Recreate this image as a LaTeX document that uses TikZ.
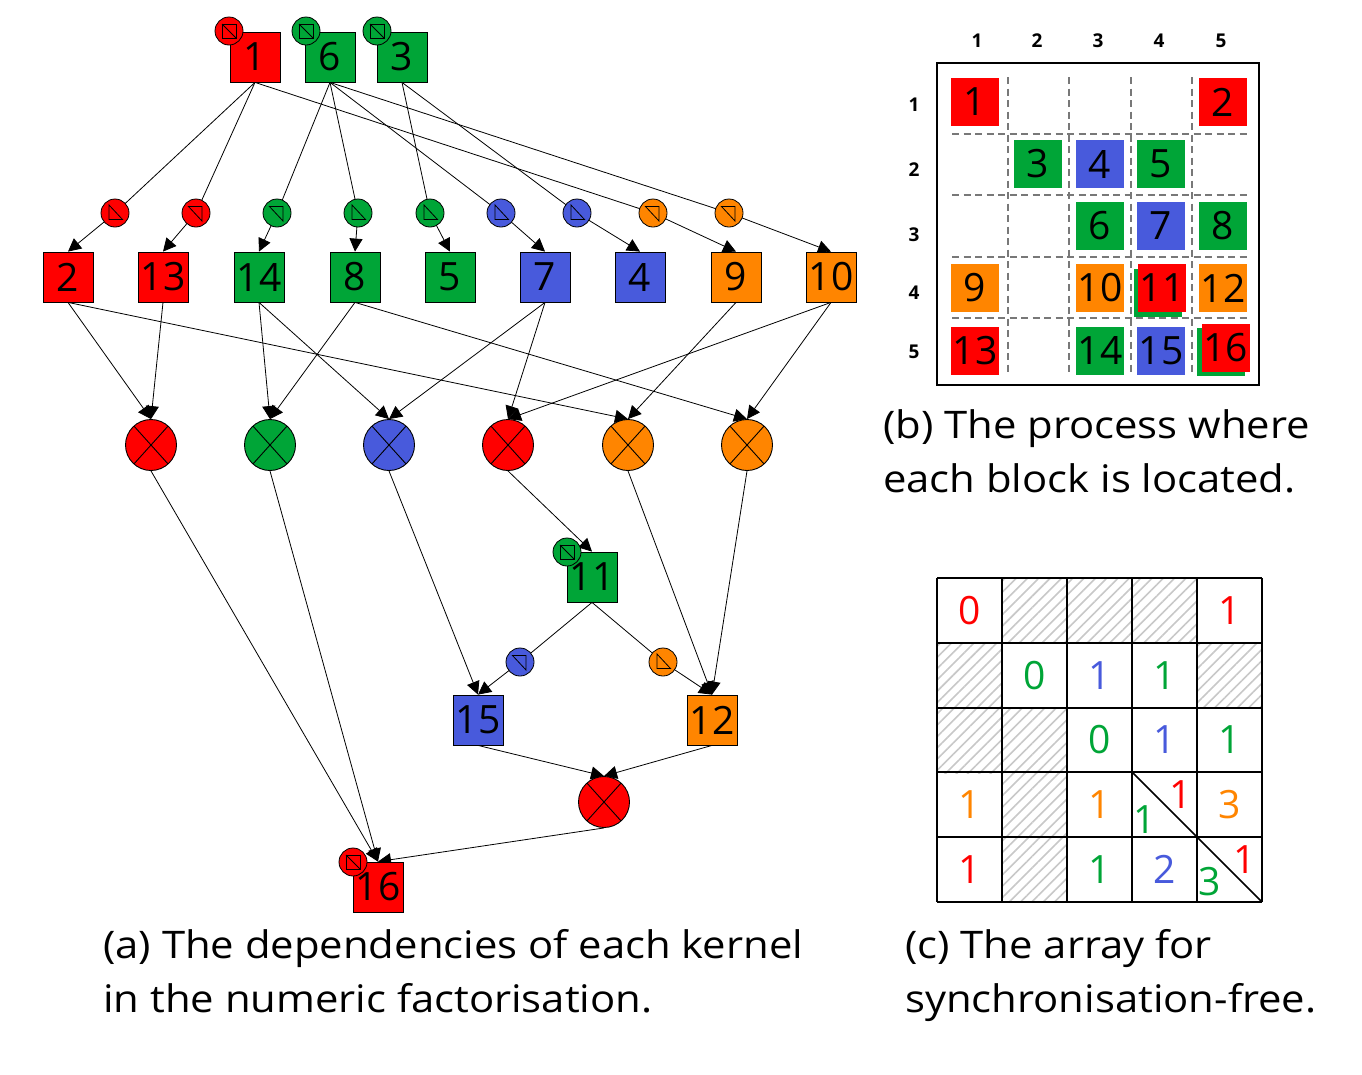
\documentclass[tikz,border=0pt]{standalone}
\usepackage{fontspec}
\setmainfont{Open Sans}
\newfontfamily\capfont[FakeStretch=1.1]{Open Sans}
\usetikzlibrary{arrows.meta,patterns.meta}
\definecolor{cred}{RGB}{255,0,0}
\definecolor{cgreen}{RGB}{0,165,55}
\definecolor{cblue}{RGB}{72,90,220}
\definecolor{corange}{RGB}{255,133,0}
\definecolor{dgray}{RGB}{120,120,120}
\definecolor{hgray}{RGB}{200,200,200}
\pgfdeclarelayer{bgw}
\pgfdeclarelayer{bg}
\pgfsetlayers{bgw,bg,main}
\newcommand{\numf}{\fontsize{39}{40}\selectfont}
\newcommand{\capf}{\capfont\fontsize{38}{44}\selectfont}
\newcommand{\PPC}{path picture bounding box.center}
\tikzset{
  blk/.style={draw=black, line width=0.8pt, minimum size=50pt, inner sep=0pt, font=\numf},
  bsq/.style={minimum size=48pt, inner sep=0pt, font=\numf},
  smc/.style={circle, draw=black, line width=0.8pt, minimum size=28pt, inner sep=0pt},
  isq/.style={smc, path picture={
      \draw[line width=0.8pt] ([shift={(-7pt,-7pt)}]\PPC) rectangle ([shift={(7pt,7pt)}]\PPC);
      \draw[line width=0.8pt] ([shift={(-7pt,7pt)}]\PPC) -- ([shift={(7pt,-7pt)}]\PPC);}},
  ilo/.style={smc, path picture={
      \draw[line width=0.8pt, line join=miter] ([shift={(-6pt,8pt)}]\PPC) -- ([shift={(-6pt,-6.5pt)}]\PPC) -- ([shift={(7.5pt,-6.5pt)}]\PPC) -- cycle;}},
  iup/.style={smc, path picture={
      \draw[line width=0.8pt, line join=miter] ([shift={(-7.5pt,6.5pt)}]\PPC) -- ([shift={(6pt,6.5pt)}]\PPC) -- ([shift={(6pt,-8pt)}]\PPC) -- cycle;}},
  xop/.style={circle, draw=black, line width=0.9pt, minimum size=51pt, inner sep=0pt, path picture={
      \draw[line width=0.9pt] ([shift={(48:30pt)}]\PPC) -- ([shift={(228:30pt)}]\PPC);
      \draw[line width=0.9pt] ([shift={(132:30pt)}]\PPC) -- ([shift={(312:30pt)}]\PPC);}},
  edge/.style={line width=0.8pt},
  arr/.style={line width=0.8pt, -{Triangle[length=13pt,width=13pt]}},
  lab/.style={font=\fontsize{19}{20}\selectfont\bfseries, inner sep=0pt},
  captext/.style={font=\capf, anchor=base west, inner sep=0pt},
  cnum/.style={font=\numf, inner sep=0pt},
  hatch/.style={pattern={Lines[angle=45,distance=8pt,line width=1.6pt]}, pattern color=hgray},
}
\begin{document}
\begin{tikzpicture}[x=1pt,y=-1pt]
\begin{pgfonlayer}{bgw}
\fill[white] (0,0) rectangle (1362,1074);
\end{pgfonlayer}
\useasboundingbox (0,0) rectangle (1362,1074);

% ---------------- (a) ----------------
\node[blk, fill=cred]    (n1) at (255,57) {1};
\node[blk, fill=cgreen]  (n6) at (330,57) {6};
\node[blk, fill=cgreen]  (n3) at (402,57) {3};
\node[isq, fill=cred]    (c1) at (229,31) {};
\node[isq, fill=cgreen]  (c6) at (306,31) {};
\node[isq, fill=cgreen]  (c3) at (377,31) {};

\node[ilo, fill=cred]    (s2)  at (115,213) {};
\node[iup, fill=cred]    (s13) at (196,213) {};
\node[iup, fill=cgreen]  (s14) at (277,213) {};
\node[ilo, fill=cgreen]  (s8)  at (358,213) {};
\node[ilo, fill=cgreen]  (s5)  at (430,213) {};
\node[ilo, fill=cblue]   (s7)  at (501,213) {};
\node[ilo, fill=cblue]   (s4)  at (577,213) {};
\node[iup, fill=corange] (s9)  at (653,213) {};
\node[iup, fill=corange] (s10) at (729,213) {};

\node[blk, fill=cred]    (n2)  at (68,277)  {2};
\node[blk, fill=cred]    (n13) at (163,277) {13};
\node[blk, fill=cgreen]  (n14) at (259,277) {14};
\node[blk, fill=cgreen]  (n8)  at (355,277) {8};
\node[blk, fill=cgreen]  (n5)  at (450,277) {5};
\node[blk, fill=cblue]   (n7)  at (545,277) {7};
\node[blk, fill=cblue]   (n4)  at (640,277) {4};
\node[blk, fill=corange] (n9)  at (736,277) {9};
\node[blk, fill=corange] (n10) at (831,277) {10};

\node[xop, fill=cred]    (e1) at (151,445) {};
\node[xop, fill=cgreen]  (e2) at (270,445) {};
\node[xop, fill=cblue]   (e3) at (389,445) {};
\node[xop, fill=cred]    (e4) at (508,445) {};
\node[xop, fill=corange] (e5) at (628,445) {};
\node[xop, fill=corange] (e6) at (747,445) {};

\node[blk, fill=cgreen]  (n11) at (592,577) {11};
\node[isq, fill=cgreen]  (c11) at (567,552) {};
\node[iup, fill=cblue]   (s15) at (520,662) {};
\node[ilo, fill=corange] (s12) at (663,662) {};
\node[blk, fill=cblue]   (n15) at (478,720) {15};
\node[blk, fill=corange] (n12) at (712,720) {12};
\node[xop, fill=cred]    (e7) at (604,802) {};
\node[blk, fill=cred]    (n16) at (378,887) {16};
\node[isq, fill=cred]    (c16) at (353,862) {};

\begin{pgfonlayer}{bg}
  \draw[edge] (n1.south) -- (s2.center);  \draw[arr] (s2.center)  -- (n2.north);
  \draw[edge] (n1.south) -- (s13.center); \draw[arr] (s13.center) -- (n13.north);
  \draw[edge] (n1.south) -- (s9.center);  \draw[arr] (s9.center)  -- (n9.north);
  \draw[edge] (n6.south) -- (s14.center); \draw[arr] (s14.center) -- (n14.north);
  \draw[edge] (n6.south) -- (s8.center);  \draw[arr] (s8.center)  -- (n8.north);
  \draw[edge] (n6.south) -- (s7.center);  \draw[arr] (s7.center)  -- (n7.north);
  \draw[edge] (n6.south) -- (s10.center); \draw[arr] (s10.center) -- (n10.north);
  \draw[edge] (n3.south) -- (s5.center);  \draw[arr] (s5.center)  -- (n5.north);
  \draw[edge] (n3.south) -- (s4.center);  \draw[arr] (s4.center)  -- (n4.north);

  \draw[arr] (n2.south)  -- (e1.north);
  \draw[arr] (n13.south) -- (e1.north);
  \draw[arr] (n14.south) -- (e2.north);
  \draw[arr] (n8.south)  -- (e2.north);
  \draw[arr] (n14.south) -- (e3.north);
  \draw[arr] (n7.south)  -- (e3.north);
  \draw[arr] (n7.south)  -- (e4.north);
  \draw[arr] (n10.south) -- (e4.north);
  \draw[arr] (n2.south)  -- (e5.north);
  \draw[arr] (n9.south)  -- (e5.north);
  \draw[arr] (n8.south)  -- (e6.north);
  \draw[arr] (n10.south) -- (e6.north);

  \draw[arr] (e1.south) -- (n16.north);
  \draw[arr] (e2.south) -- (n16.north);
  \draw[arr] (e3.south) -- (n15.north);
  \draw[arr] (e4.south) -- (n11.north);
  \draw[arr] (e5.south) -- (n12.north);
  \draw[arr] (e6.south) -- (n12.north);
  \draw[edge] (n11.south) -- (s15.center); \draw[arr] (s15.center) -- (n15.north);
  \draw[edge] (n11.south) -- (s12.center); \draw[arr] (s12.center) -- (n12.north);
  \draw[arr] (n15.south) -- (e7.north);
  \draw[arr] (n12.south) -- (e7.north);
  \draw[arr] (e7.south) -- (n16.north);
\end{pgfonlayer}

\node[captext] (capa1) at (103,958)  {(a) The dependencies of each kernel};
\node[captext] (capa2) at (103,1012) {in the numeric factorisation.};

% ---------------- (b) ----------------
\foreach \xx/\t in {977/1,1037/2,1098/3,1159/4,1221/5}
  \node[lab] (bc\t) at (\xx,41) {\t};
\foreach \yy/\t in {105/1,170/2,235/3,293/4,352/5}
  \node[lab] (br\t) at (914,\yy) {\t};
\foreach \xx in {1008,1069,1131,1192}
  \draw[dgray, line width=1.3pt, dash pattern=on 7pt off 4.5pt] (\xx,77) -- (\xx,374);
\foreach \yy in {134,195,257,318}
  \draw[dgray, line width=1.3pt, dash pattern=on 7pt off 4.5pt] (952,\yy) -- (1250,\yy);
\draw[line width=2pt] (937,63) rectangle (1259,385);

\node[bsq, fill=cred]    (b1)  at (975,102)    {1};
\node[bsq, fill=cred]    (b2)  at (1223,102)   {2};
\node[bsq, fill=cgreen]  (b3)  at (1037.5,164) {3};
\node[bsq, fill=cblue]   (b4)  at (1100,164)   {4};
\node[bsq, fill=cgreen]  (b5)  at (1161,164)   {5};
\node[bsq, fill=cgreen]  (b6)  at (1100,226)   {6};
\node[bsq, fill=cblue]   (b7)  at (1161,226)   {7};
\node[bsq, fill=cgreen]  (b8)  at (1223,226)   {8};
\node[bsq, fill=corange] (b9)  at (975,288)    {9};
\node[bsq, fill=corange] (b10) at (1100,288)   {10};
\node[bsq, fill=cgreen]  (b11g) at (1158,292.5) {};
\node[bsq, fill=cred]    (b11) at (1162,288)   {11};
\node[bsq, fill=corange] (b12) at (1223,288)   {12};
\node[bsq, fill=cred]    (b13) at (975,350.5)  {13};
\node[bsq, fill=cgreen]  (b14) at (1100,350.5) {14};
\node[bsq, fill=cblue]   (b15) at (1161,350.5) {15};
\node[bsq, fill=cgreen]  (b16g) at (1221,352)  {};
\node[bsq, fill=cred]    (b16) at (1225.5,348) {16};

\node[captext] (capb1) at (883,438) {(b) The process where};
\node[captext] (capb2) at (883,492) {each block is located.};

% ---------------- (c) ----------------
\foreach \cx/\cy in {1002/578,1067/578,1132/578, 937/643,1197/643, 937/708,1002/708, 1002/772, 1002/837}
  \fill[hatch] (\cx,\cy) rectangle ++(65,65);
\foreach \xx in {937,1002,1067,1132,1197,1262}
  \draw[line width=2pt] (\xx,578) -- (\xx,902);
\foreach \yy in {578,643,708,772,837,902}
  \draw[line width=2pt] (937,\yy) -- (1262,\yy);
\draw[line width=1.6pt] (1132,772) -- (1197,837);
\draw[line width=1.6pt] (1197,837) -- (1262,902);

\node[cnum, text=cred]    (g11) at (969.5,610.5)  {0};
\node[cnum, text=cred]    (g15) at (1229.5,610.5) {1};
\node[cnum, text=cgreen]  (g22) at (1034.5,675.5) {0};
\node[cnum, text=cblue]   (g23) at (1099.5,675.5) {1};
\node[cnum, text=cgreen]  (g24) at (1164.5,675.5) {1};
\node[cnum, text=cgreen]  (g33) at (1099.5,740)   {0};
\node[cnum, text=cblue]   (g34) at (1164.5,740)   {1};
\node[cnum, text=cgreen]  (g35) at (1229.5,740)   {1};
\node[cnum, text=corange] (g41) at (969.5,804.5)  {1};
\node[cnum, text=corange] (g43) at (1099.5,804.5) {1};
\node[cnum, text=cred]    (g44a) at (1181,795)    {1};
\node[cnum, text=cgreen]  (g44b) at (1145,820)    {1};
\node[cnum, text=corange] (g45) at (1229.5,804.5) {3};
\node[cnum, text=cred]    (g51) at (969.5,869.5)  {1};
\node[cnum, text=cgreen]  (g53) at (1099.5,869.5) {1};
\node[cnum, text=cblue]   (g54) at (1164.5,869.5) {2};
\node[cnum, text=cred]    (g55a) at (1245,860)    {1};
\node[cnum, text=cgreen]  (g55b) at (1210,882)    {3};

\node[captext] (capc1) at (905,958)  {(c) The array for};
\node[captext] (capc2) at (905,1012) {synchronisation-free.};
\end{tikzpicture}
\end{document}
